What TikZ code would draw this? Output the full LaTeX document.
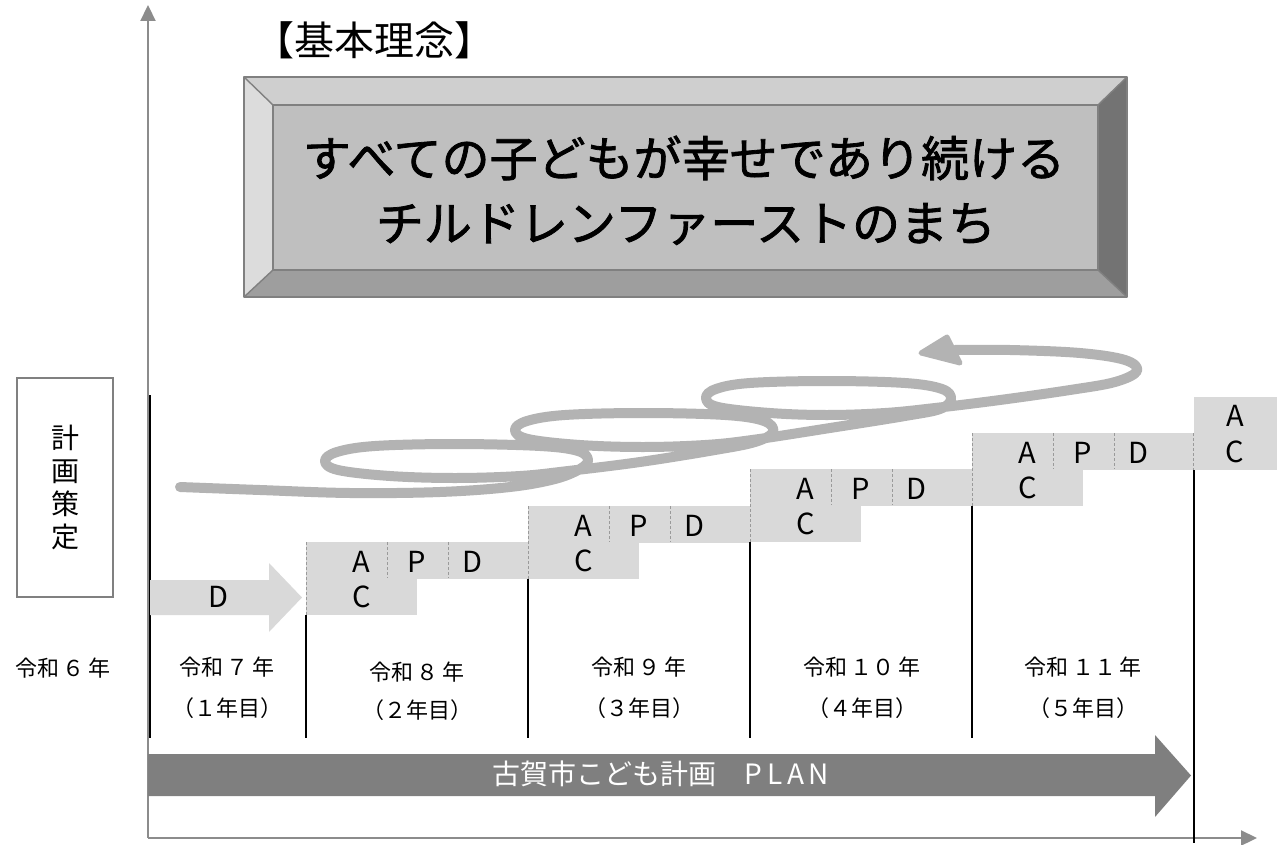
\documentclass[tikz,border=0pt]{standalone}
\usepackage{fontspec}
\setmainfont{Noto Sans CJK JP}
\newfontfamily\midfont{Noto Sans CJK JP}[FakeBold=1.6]
\usetikzlibrary{arrows.meta}
\definecolor{axisgray}{HTML}{8C8C8C}
\definecolor{boxgray}{HTML}{D9D9D9}
\definecolor{dashgray}{HTML}{9A9A9A}
\definecolor{coilgray}{HTML}{B3B3B3}
\definecolor{plangray}{HTML}{7F7F7F}
\definecolor{bevtop}{HTML}{CFCFCF}
\definecolor{bevleft}{HTML}{DCDCDC}
\definecolor{bevface}{HTML}{BFBFBF}
\definecolor{bevbottom}{HTML}{9E9E9E}
\definecolor{bevright}{HTML}{737373}
\definecolor{bevline}{HTML}{808080}
\tikzset{
  axisline/.style={draw=axisgray, line width=2.2pt, -{Triangle[length=16pt,width=15pt]}},
  yearline/.style={draw=black, line width=1.8pt},
  pdbox/.style={fill=boxgray, draw=none},
  dashsep/.style={draw=dashgray, line width=0.9pt, dash pattern=on 3pt off 2pt},
  letter/.style={font=\fontsize{29}{29}\selectfont, inner sep=0pt},
  yearlbl/.style={font=\fontsize{22}{26}\selectfont, inner sep=0pt},
  coil/.style={draw=coilgray, line width=10pt, line cap=round, line join=round},
  bevel/.style={draw=bevline, line width=1.4pt, line join=round},
  bigtext/.style={font=\midfont\fontsize{48}{56}\selectfont, inner sep=0pt},
}
\begin{document}
\begin{tikzpicture}[x=1pt,y=-1pt]
\useasboundingbox (0,0) rectangle (1284,845);

% ---- title
\node[font=\fontsize{40}{44}\selectfont, inner sep=0pt] (title) at (374,40) {【基本理念】};

% ---- bevel box
\fill[bevtop] (244,77) -- (1127,77) -- (1098,105) -- (273,105) -- cycle;
\fill[bevleft] (244,77) -- (273,105) -- (273,270) -- (244,297) -- cycle;
\fill[bevbottom] (244,297) -- (273,270) -- (1098,270) -- (1127,297) -- cycle;
\fill[bevright] (1127,77) -- (1098,105) -- (1098,270) -- (1127,297) -- cycle;
\fill[bevface] (273,105) rectangle (1098,270);
\draw[bevel] (244,77) rectangle (1127,297);
\draw[bevel] (273,105) rectangle (1098,270);
\draw[bevel] (244,77) -- (273,105) (1127,77) -- (1098,105) (244,297) -- (273,270) (1127,297) -- (1098,270);
\node[bigtext] (line1) at (684,158) {すべての子どもが幸せであり続ける};
\node[bigtext] (line2) at (686,224) {チルドレンファーストのまち};

% ---- plan box
\node[draw=bevline, line width=1.4pt, minimum width=96pt, minimum height=219pt, inner sep=0pt] (planbox) at (65,487.5) {};
\node[font=\fontsize{28}{33}\selectfont, align=center, inner sep=0pt] (plantext) at (65,487) {計\\画\\策\\定};

% ---- axes
\coordinate (origin) at (148,838);
\coordinate (ytip) at (148,5);
\coordinate (xtip) at (1257,838);
\draw[yearline] (150,395) -- (150,738);
\draw[axisline] (origin) -- (ytip);
\draw[axisline] (origin) -- (xtip);

% ---- coil arrow
\draw[coil] plot[smooth, tension=0.6] coordinates {
 (180,487) (260,490) (350,493) (440,492) (510,487) (555,479) (580,469) (588,460)
 (578,451) (540,446) (455,444) (375,446) (337,452) (325,461)
 (338,470) (390,476) (455,478) (520,476) (568,471)
 (640,462) (715,450) (755,442) (773,432)
 (764,421) (725,415) (643,413) (565,415) (527,421) (515,430)
 (528,439) (580,445) (643,447) (705,445) (752,440)
 (830,428) (905,416) (940,409) (951,399)
 (942,389) (905,383) (827,381) (750,383) (716,389) (706,398)
 (718,407) (770,413) (827,415) (885,413) (935,408)
 (1000,400) (1070,390) (1115,382) (1137,371)
 (1125,360) (1080,353) (1010,350) (955,350)};
\filldraw[fill=coilgray, draw=coilgray, line width=5pt, line join=round] (921,353) -- (947,337) -- (960,363) -- cycle;

% ---- D arrow (year 1)
\fill[boxgray] (150,580) -- (269,580) -- (269,563) -- (302,597.5) -- (269,632) -- (269,615) -- (150,615) -- cycle;
\node[letter] (D1) at (218,597) {D};

% ---- PDCA boxes
\foreach \i/\x/\y in {2/306/542, 3/528/506, 4/750/469, 5/972/433} {
  \fill[pdbox] (\x,\y) rectangle (\x+222,\y+36.5);
  \fill[pdbox] (\x,\y+36) rectangle (\x+111,\y+73);
  \draw[dashsep] (\x,\y) -- (\x,\y+73);
  \draw[dashsep] (\x+81,\y) -- (\x+81,\y+36);
  \draw[dashsep] (\x+142,\y) -- (\x+142,\y+36);
  \node[letter] (A\i) at (\x+55,\y+20) {A};
  \node[letter] (P\i) at (\x+111,\y+20) {P};
  \node[letter] (D\i) at (\x+166,\y+20) {D};
  \node[letter] (C\i) at (\x+56,\y+55) {C};
  \draw[yearline] (\x,\y+73) -- (\x,738);
}
\fill[pdbox] (1194,397) rectangle (1277,470);
\draw[dashsep] (1193,433) -- (1193,470);
\node[letter] (A6) at (1235,416) {A};
\node[letter] (C6) at (1235,452) {C};

% ---- PLAN arrow
\fill[plangray] (148,754) -- (1155,754) -- (1155,735) -- (1191,775.5) -- (1155,817) -- (1155,796) -- (148,796) -- cycle;
\node[font=\fontsize{28}{28}\selectfont, text=white, inner sep=0pt] (plan) at (661,774) {古賀市こども計画\hspace{1em}P\,L\,A\,N};
\draw[yearline] (1194,470) -- (1194,843);

% ---- year labels
\node[yearlbl] (y6) at (63,668) {令和\,６\,年};
\node[yearlbl] (y7a) at (227,667) {令和\,７\,年};
\node[yearlbl] (y7b) at (227,708) {（１年目）};
\node[yearlbl] (y8a) at (417,672) {令和\,８\,年};
\node[yearlbl] (y8b) at (417,710) {（２年目）};
\node[yearlbl] (y9a) at (639,667) {令和\,９\,年};
\node[yearlbl] (y9b) at (639,708) {（３年目）};
\node[yearlbl] (y10a) at (862,667) {令和\,１０\,年};
\node[yearlbl] (y10b) at (862,708) {（４年目）};
\node[yearlbl] (y11a) at (1083,667) {令和\,１１\,年};
\node[yearlbl] (y11b) at (1083,708) {（５年目）};
\end{tikzpicture}
\end{document}
